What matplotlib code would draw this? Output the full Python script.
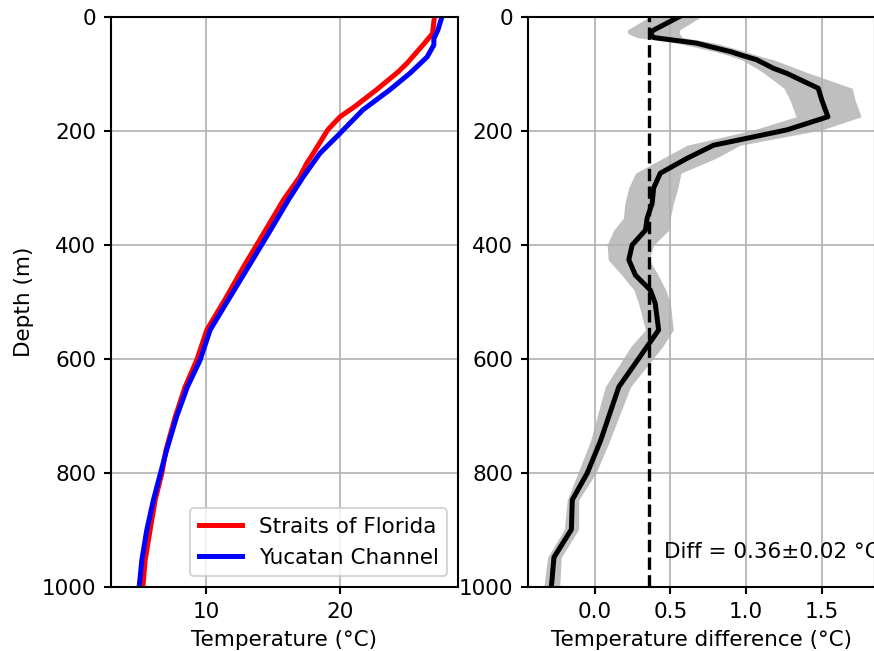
import numpy as np
import matplotlib
matplotlib.use("Agg")
import matplotlib.pyplot as plt

# Temperature profiles
florida_depth = [0, 29, 46, 81, 96, 128, 157, 175, 198, 239, 257, 280, 321, 380, 438, 496, 549, 602, 649, 701, 760, 800, 847, 900, 953, 1000]
florida_temp = [27.04, 26.9, 26.3, 25.0, 24.35, 22.7, 21.1, 20.0, 19.08, 18.0, 17.5, 17.0, 15.77, 14.28, 12.8, 11.4, 10.05, 9.3, 8.43, 7.7, 7.0, 6.7, 6.2, 5.82, 5.45, 5.28]

yucatan_depth = [0, 23, 38, 49, 70, 99, 128, 163, 187, 210, 239, 280, 321, 380, 438, 496, 549, 602, 649, 701, 760, 800, 847, 900, 953, 1000]
yucatan_temp = [27.6, 27.3, 27.0, 27.0, 26.5, 25.2, 23.7, 21.7, 20.7, 19.75, 18.5, 17.26, 16.14, 14.65, 13.16, 11.66, 10.3, 9.55, 8.6, 7.8, 7.05, 6.6, 6.07, 5.57, 5.2, 5.0]

# Temperature difference profile
diff_depth = [0, 23, 29, 36, 46, 52, 61, 67, 75, 90, 99, 125, 146, 175, 198, 225, 248, 274, 300, 327, 353, 374, 400, 426, 453, 479, 502, 549, 578, 649, 743, 800, 847, 899, 948, 1000]
diff_mean = [0.555, 0.39, 0.368, 0.39, 0.675, 0.763, 0.90, 0.97, 1.07, 1.18, 1.27, 1.476, 1.50, 1.54, 1.27, 0.785, 0.61, 0.434, 0.39, 0.38, 0.347, 0.336, 0.248, 0.226, 0.27, 0.368, 0.40, 0.423, 0.347, 0.16, 0.04, -0.048, -0.147, -0.153, -0.268, -0.285]
diff_lo = [0.36, 0.215, 0.22, 0.28, 0.55, 0.65, 0.80, 0.88, 0.97, 1.07, 1.12, 1.25, 1.29, 1.33, 1.05, 0.61, 0.45, 0.27, 0.225, 0.20, 0.19, 0.126, 0.083, 0.09, 0.18, 0.26, 0.29, 0.336, 0.24, 0.07, -0.026, -0.11, -0.18, -0.20, -0.31, -0.335]
diff_hi = [0.70, 0.56, 0.56, 0.58, 0.80, 0.88, 1.00, 1.07, 1.18, 1.33, 1.42, 1.70, 1.72, 1.76, 1.50, 0.96, 0.80, 0.57, 0.55, 0.52, 0.50, 0.49, 0.39, 0.36, 0.42, 0.47, 0.50, 0.52, 0.45, 0.237, 0.10, 0.01, -0.105, -0.105, -0.22, -0.23]
mean_diff = 0.36
diff_text = "Diff = 0.36±0.02 °C"

plt.rcParams["font.size"] = 10.3
plt.rcParams["axes.linewidth"] = 1.0
plt.rcParams["xtick.major.width"] = 1.0
plt.rcParams["ytick.major.width"] = 1.0

DPI = 150
fig = plt.figure(figsize=(874 / DPI, 651 / DPI), dpi=DPI)
ax1 = fig.add_axes([0.127, 0.0983, 0.397, 0.8756])
ax2 = fig.add_axes([0.604, 0.0983, 0.397, 0.8756])

ax1.plot(florida_temp, florida_depth, color="red", lw=2.4, label="Straits of Florida")
ax1.plot(yucatan_temp, yucatan_depth, color="blue", lw=2.4, label="Yucatan Channel")
ax1.set_ylim(1000, 0)
ax1.set_xlim(2.9, 28.8)
ax1.set_xticks([10, 20])
ax1.set_yticks([0, 200, 400, 600, 800, 1000])
ax1.grid(True)
ax1.set_xlabel("Temperature (°C)")
ax1.set_ylabel("Depth (m)")
ax1.legend(loc="lower right")

ax2.fill_betweenx(diff_depth, diff_lo, diff_hi, color="gray", alpha=0.5, lw=0)
ax2.plot(diff_mean, diff_depth, color="black", lw=2.4)
ax2.axvline(mean_diff, color="black", ls="--", lw=1.6)
ax2.text(0.455, 949, diff_text, va="baseline", ha="left")
ax2.set_ylim(1000, 0)
ax2.set_xlim(-0.44, 1.85)
ax2.set_xticks([0.0, 0.5, 1.0, 1.5])
ax2.set_yticks([0, 200, 400, 600, 800, 1000])
ax2.grid(True)
ax2.set_xlabel("Temperature difference (°C)")

fig.savefig("out.png", dpi=DPI)
